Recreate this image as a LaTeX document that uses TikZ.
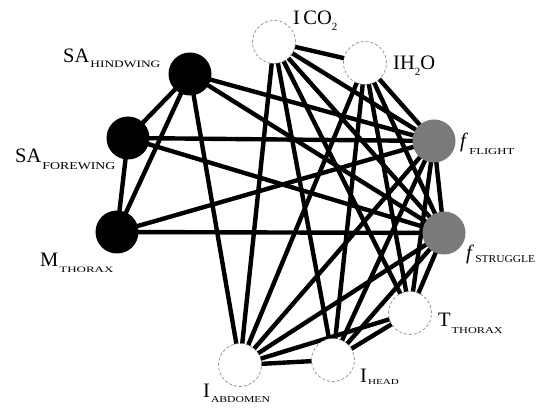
\documentclass[tikz,border=0pt]{standalone}
\usepackage{fontspec}
\setmainfont{Liberation Serif}
\usetikzlibrary{backgrounds}
\newcommand{\mainsz}{\fontsize{20.5}{20.5}\selectfont}
% \subtext{width}{height}{raise}{text}
\newcommand{\subtext}[4]{\hspace{1pt}\raisebox{#3pt}{\resizebox{#1pt}{#2pt}{\fontsize{10}{10}\selectfont #4}}}
\tikzset{
  blacknode/.style={circle, fill=black, minimum size=43pt, inner sep=0pt},
  graynode/.style={circle, fill=black!52, minimum size=43pt, inner sep=0pt},
  whitenode/.style={circle, fill=white, draw=black!45, line width=0.7pt, dash pattern=on 3pt off 2pt, minimum size=43pt, inner sep=0pt},
  edge/.style={line width=4.4pt, black},
  lab/.style={anchor=base west, inner sep=0pt, font=\mainsz}
}
\begin{document}
\begin{tikzpicture}[x=1pt,y=1pt]
\useasboundingbox (0,0) rectangle (542,411);
% nodes
\node[blacknode] (HW) at (190,337) {};
\node[blacknode] (FW) at (128,273) {};
\node[blacknode] (MT) at (117,179) {};
\node[whitenode] (CO) at (274,369) {};
\node[whitenode] (HO) at (365,348) {};
\node[graynode] (FF) at (434,270) {};
\node[graynode] (FS) at (444,178) {};
\node[whitenode] (TT) at (410,98) {};
\node[whitenode] (TH) at (333,51) {};
\node[whitenode] (TA) at (240,46) {};
% edges
\begin{scope}[on background layer]
\foreach \a/\b in {HW/FW, HW/MT, FW/MT, HW/FF, HW/FS, HW/TA, FW/FF, FW/FS, MT/FF, MT/FS,
  CO/HO, CO/FF, CO/FS, CO/TT, CO/TH, CO/TA,
  HO/FF, HO/FS, HO/TT, HO/TH, HO/TA,
  FF/FS, FF/TT, FF/TH, FF/TA,
  FS/TT, FS/TH, FS/TA,
  TT/TH, TT/TA, TH/TA}
  \draw[edge] (\a.center) -- (\b.center);
\end{scope}
% labels
\node[lab] (lHW) at (63,348) {SA\subtext{70}{6.5}{-5}{HINDWING}};
\node[lab] (lFW) at (15,248) {SA\subtext{73}{7}{-7}{FOREWING}};
\node[lab] (lMT) at (40,144) {M\subtext{54}{5.5}{-6}{THORAX}};
\node[lab] (lTA) at (203,13) {I\subtext{59}{6}{-5}{ABDOMEN}};
\node[lab] (lTH) at (360,28) {I\subtext{31}{5}{-2}{HEAD}};
\node[lab] (lTT) at (438,84) {T\subtext{51}{6}{-7}{THORAX}};
\node[lab] (lFS) at (466,151) {\textit{f}\subtext{60}{7}{-3}{STRUGGLE}};
\node[lab] (lFF) at (460,263) {\textit{f}\subtext{45}{6}{-7}{FLIGHT}};
\node[lab] (lCO) at (293,386) {I\,CO\raisebox{-6pt}{\fontsize{11}{11}\selectfont 2}};
\node[lab] (lHO) at (393,341) {IH\raisebox{-6pt}{\fontsize{11}{11}\selectfont 2}O};
\end{tikzpicture}
\end{document}
